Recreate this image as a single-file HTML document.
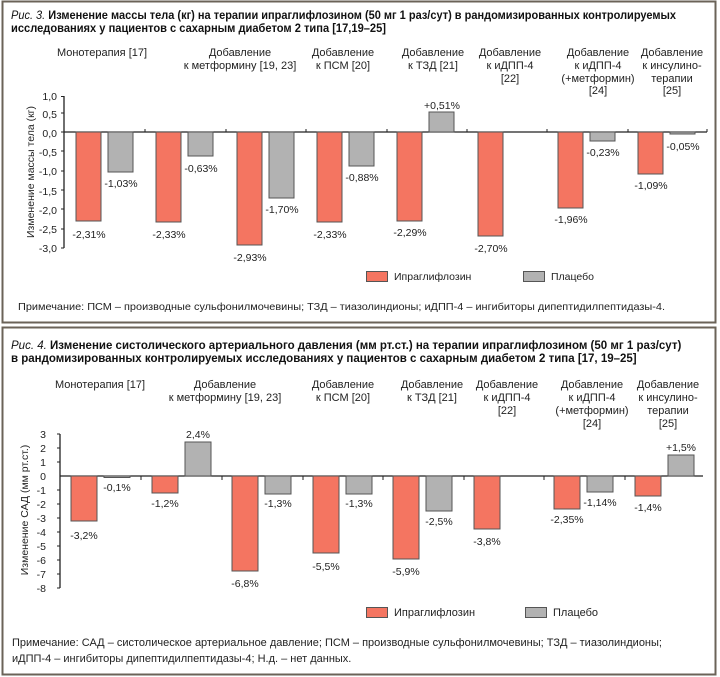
<!DOCTYPE html>
<html><head><meta charset="utf-8"><style>
html,body{margin:0;padding:0;background:#fff;}
svg{display:block;font-family:"Liberation Sans Narrow","Liberation Sans",sans-serif;}
.t{font-family:"Liberation Sans Narrow","Liberation Sans",sans-serif;font-weight:bold;font-size:11.5px;fill:#111;}
.c{font-size:11px;fill:#222;text-anchor:middle;}
.v{font-family:"Liberation Sans",sans-serif;font-size:10.5px;fill:#222;text-anchor:middle;}
.y{font-family:"Liberation Sans",sans-serif;font-size:10.5px;fill:#222;text-anchor:end;}
.n{font-size:11px;fill:#222;}
.nw{font-family:"Liberation Sans",sans-serif;font-size:10.5px;fill:#222;}
.r{fill:#f47561;stroke:#555;stroke-width:1;}
.g{fill:#b2b2b2;stroke:#555;stroke-width:1;}
</style></head><body>
<svg width="720" height="677" viewBox="0 0 720 677" xmlns="http://www.w3.org/2000/svg">
<rect x="2.5" y="1.5" width="713" height="321" fill="#fff" stroke="#6b6358" stroke-width="2"/>
<rect x="2.5" y="327.5" width="713" height="347" fill="#fff" stroke="#6b6358" stroke-width="2"/>

<!-- Chart 1 -->
<text class="t" x="11" y="19" textLength="665" lengthAdjust="spacingAndGlyphs"><tspan font-style="italic" font-weight="normal">Рис. 3.</tspan> Изменение массы тела (кг) на терапии ипраглифлозином (50 мг 1 раз/сут) в рандомизированных контролируемых</text>
<text class="t" x="11" y="32" textLength="375" lengthAdjust="spacingAndGlyphs">исследованиях у пациентов с сахарным диабетом 2 типа [17,19–25]</text>

<text class="c" x="102" y="56">Монотерапия [17]</text>
<text class="c" x="240" y="56">Добавление</text><text class="c" x="240" y="69">к метформину [19, 23]</text>
<text class="c" x="343" y="56">Добавление</text><text class="c" x="343" y="69">к ПСМ [20]</text>
<text class="c" x="433" y="56">Добавление</text><text class="c" x="433" y="69">к ТЗД [21]</text>
<text class="c" x="510" y="56">Добавление</text><text class="c" x="510" y="69">к иДПП-4</text><text class="c" x="510" y="82">[22]</text>
<text class="c" x="598" y="56">Добавление</text><text class="c" x="598" y="69">к иДПП-4</text><text class="c" x="598" y="82">(+метформин)</text><text class="c" x="598" y="94">[24]</text>
<text class="c" x="672" y="56">Добавление</text><text class="c" x="672" y="69">к инсулино-</text><text class="c" x="672" y="82">терапии</text><text class="c" x="672" y="94">[25]</text>

<g stroke="#222" stroke-width="1.3">
<line x1="64" y1="96" x2="64" y2="248"/>
<line x1="64" y1="132" x2="707" y2="132"/>
</g>
<g stroke="#222" stroke-width="1">
<line x1="61" y1="96.5" x2="64" y2="96.5"/><line x1="61" y1="113" x2="64" y2="113"/><line x1="61" y1="132" x2="64" y2="132"/>
<line x1="61" y1="151" x2="64" y2="151"/><line x1="61" y1="171" x2="64" y2="171"/><line x1="61" y1="190" x2="64" y2="190"/>
<line x1="61" y1="209" x2="64" y2="209"/><line x1="61" y1="229" x2="64" y2="229"/><line x1="61" y1="248" x2="64" y2="248"/>
<line x1="145" y1="129" x2="145" y2="132"/><line x1="226" y1="129" x2="226" y2="132"/><line x1="306" y1="129" x2="306" y2="132"/>
<line x1="387" y1="129" x2="387" y2="132"/><line x1="467" y1="129" x2="467" y2="132"/><line x1="547" y1="129" x2="547" y2="132"/>
<line x1="628" y1="129" x2="628" y2="132"/><line x1="707" y1="129" x2="707" y2="132"/>
</g>
<text class="y" x="57" y="100">1,0</text><text class="y" x="57" y="118">0,5</text><text class="y" x="57" y="137">0,0</text>
<text class="y" x="57" y="156">-0,5</text><text class="y" x="57" y="175">-1,0</text><text class="y" x="57" y="195">-1,5</text>
<text class="y" x="57" y="214">-2,0</text><text class="y" x="57" y="233">-2,5</text><text class="y" x="57" y="252">-3,0</text>
<text class="nw" transform="translate(34,172) rotate(-90)" text-anchor="middle">Изменение массы тела (кг)</text>

<rect class="r" x="76" y="132" width="25" height="89"/><rect class="g" x="108" y="132" width="25" height="40"/>
<rect class="r" x="156" y="132" width="25" height="90"/><rect class="g" x="188" y="132" width="25" height="24"/>
<rect class="r" x="237" y="132" width="25" height="113"/><rect class="g" x="269" y="132" width="25" height="66"/>
<rect class="r" x="317" y="132" width="25" height="90"/><rect class="g" x="349" y="132" width="25" height="34"/>
<rect class="r" x="397" y="132" width="25" height="89"/><rect class="g" x="429" y="112" width="25" height="20"/>
<rect class="r" x="478" y="132" width="25" height="104"/>
<rect class="r" x="558" y="132" width="25" height="76"/><rect class="g" x="590" y="132" width="25" height="9"/>
<rect class="r" x="638" y="132" width="25" height="42"/><rect class="g" x="670" y="132" width="25" height="2"/>

<text class="v" x="89" y="238">-2,31%</text><text class="v" x="121" y="187">-1,03%</text>
<text class="v" x="169" y="238">-2,33%</text><text class="v" x="201" y="172">-0,63%</text>
<text class="v" x="250" y="261">-2,93%</text><text class="v" x="282" y="213">-1,70%</text>
<text class="v" x="330" y="238">-2,33%</text><text class="v" x="362" y="181">-0,88%</text>
<text class="v" x="410" y="236">-2,29%</text><text class="v" x="442" y="109">+0,51%</text>
<text class="v" x="491" y="252">-2,70%</text>
<text class="v" x="571" y="223">-1,96%</text><text class="v" x="603" y="156">-0,23%</text>
<text class="v" x="651" y="189">-1,09%</text><text class="v" x="683" y="150">-0,05%</text>

<rect class="r" x="366.5" y="271.5" width="21" height="10"/><text class="nw" x="394" y="280">Ипраглифлозин</text>
<rect class="g" x="523.5" y="271.5" width="21" height="10"/><text class="nw" x="551" y="280">Плацебо</text>
<text class="nw" x="18" y="310" textLength="647" lengthAdjust="spacingAndGlyphs">Примечание: ПСМ – производные сульфонилмочевины; ТЗД – тиазолиндионы; иДПП-4 – ингибиторы дипептидилпептидазы-4.</text>

<!-- Chart 2 -->
<text class="t" x="11" y="349"><tspan font-style="italic" font-weight="normal">Рис. 4.</tspan> Изменение систолического артериального давления (мм рт.ст.) на терапии ипраглифлозином (50 мг 1 раз/сут)</text>
<text class="t" x="11" y="362">в рандомизированных контролируемых исследованиях у пациентов с сахарным диабетом 2 типа [17, 19–25]</text>

<text class="c" x="100" y="388">Монотерапия [17]</text>
<text class="c" x="225" y="388">Добавление</text><text class="c" x="225" y="401">к метформину [19, 23]</text>
<text class="c" x="343" y="388">Добавление</text><text class="c" x="343" y="401">к ПСМ [20]</text>
<text class="c" x="432" y="388">Добавление</text><text class="c" x="432" y="401">к ТЗД [21]</text>
<text class="c" x="507" y="388">Добавление</text><text class="c" x="507" y="401">к иДПП-4</text><text class="c" x="507" y="414">[22]</text>
<text class="c" x="592" y="388">Добавление</text><text class="c" x="592" y="401">к иДПП-4</text><text class="c" x="592" y="414">(+метформин)</text><text class="c" x="592" y="427">[24]</text>
<text class="c" x="668" y="388">Добавление</text><text class="c" x="668" y="401">к инсулино-</text><text class="c" x="668" y="414">терапии</text><text class="c" x="668" y="427">[25]</text>

<g stroke="#222" stroke-width="1.3">
<line x1="60" y1="434" x2="60" y2="588"/>
<line x1="60" y1="476" x2="703" y2="476"/>
</g>
<g stroke="#222" stroke-width="1">
<line x1="57" y1="434" x2="60" y2="434"/><line x1="57" y1="448" x2="60" y2="448"/><line x1="57" y1="462" x2="60" y2="462"/>
<line x1="57" y1="490" x2="60" y2="490"/><line x1="57" y1="504" x2="60" y2="504"/><line x1="57" y1="518" x2="60" y2="518"/>
<line x1="57" y1="532" x2="60" y2="532"/><line x1="57" y1="546" x2="60" y2="546"/><line x1="57" y1="560" x2="60" y2="560"/>
<line x1="57" y1="574" x2="60" y2="574"/><line x1="57" y1="588" x2="60" y2="588"/>
<line x1="141" y1="476" x2="141" y2="480"/><line x1="222" y1="476" x2="222" y2="480"/><line x1="303" y1="476" x2="303" y2="480"/>
<line x1="383" y1="476" x2="383" y2="480"/><line x1="464" y1="476" x2="464" y2="480"/><line x1="544" y1="476" x2="544" y2="480"/>
<line x1="625" y1="476" x2="625" y2="480"/>
</g>
<text class="y" x="46" y="438">3</text><text class="y" x="46" y="452">2</text><text class="y" x="46" y="466">1</text>
<text class="y" x="46" y="480">0</text><text class="y" x="46" y="494">-1</text><text class="y" x="46" y="508">-2</text>
<text class="y" x="46" y="522">-3</text><text class="y" x="46" y="536">-4</text><text class="y" x="46" y="550">-5</text>
<text class="y" x="46" y="564">-6</text><text class="y" x="46" y="578">-7</text><text class="y" x="46" y="592">-8</text>
<text class="nw" transform="translate(28,510) rotate(-90)" text-anchor="middle">Изменение САД (мм рт.ст.)</text>

<rect class="r" x="71" y="476" width="26" height="45"/><rect class="g" x="104" y="476" width="26" height="1.5"/>
<rect class="r" x="152" y="476" width="26" height="17"/><rect class="g" x="185" y="442" width="26" height="34"/>
<rect class="r" x="232" y="476" width="26" height="95"/><rect class="g" x="265" y="476" width="26" height="18"/>
<rect class="r" x="313" y="476" width="26" height="77"/><rect class="g" x="346" y="476" width="26" height="18"/>
<rect class="r" x="393" y="476" width="26" height="83"/><rect class="g" x="426" y="476" width="26" height="35"/>
<rect class="r" x="474" y="476" width="26" height="53"/>
<rect class="r" x="554" y="476" width="26" height="33"/><rect class="g" x="587" y="476" width="26" height="16"/>
<rect class="r" x="635" y="476" width="26" height="20"/><rect class="g" x="668" y="455" width="26" height="21"/>

<text class="v" x="84" y="539">-3,2%</text><text class="v" x="117" y="491">-0,1%</text>
<text class="v" x="165" y="507">-1,2%</text><text class="v" x="198" y="438">2,4%</text>
<text class="v" x="245" y="587">-6,8%</text><text class="v" x="278" y="507">-1,3%</text>
<text class="v" x="326" y="570">-5,5%</text><text class="v" x="359" y="507">-1,3%</text>
<text class="v" x="406" y="575">-5,9%</text><text class="v" x="439" y="525">-2,5%</text>
<text class="v" x="487" y="545">-3,8%</text>
<text class="v" x="567" y="523">-2,35%</text><text class="v" x="600" y="506">-1,14%</text>
<text class="v" x="648" y="511">-1,4%</text><text class="v" x="681" y="451">+1,5%</text>

<rect class="r" x="366.5" y="607.5" width="21" height="10"/><text class="n" x="394" y="616">Ипраглифлозин</text>
<rect class="g" x="525.5" y="607.5" width="21" height="10"/><text class="n" x="553" y="616">Плацебо</text>
<text class="n" x="12" y="646">Примечание: САД – систолическое артериальное давление; ПСМ – производные сульфонилмочевины; ТЗД – тиазолиндионы;</text>
<text class="n" x="12" y="662">иДПП-4 – ингибиторы дипептидилпептидазы-4; Н.д. – нет данных.</text>
</svg>
</body></html>
